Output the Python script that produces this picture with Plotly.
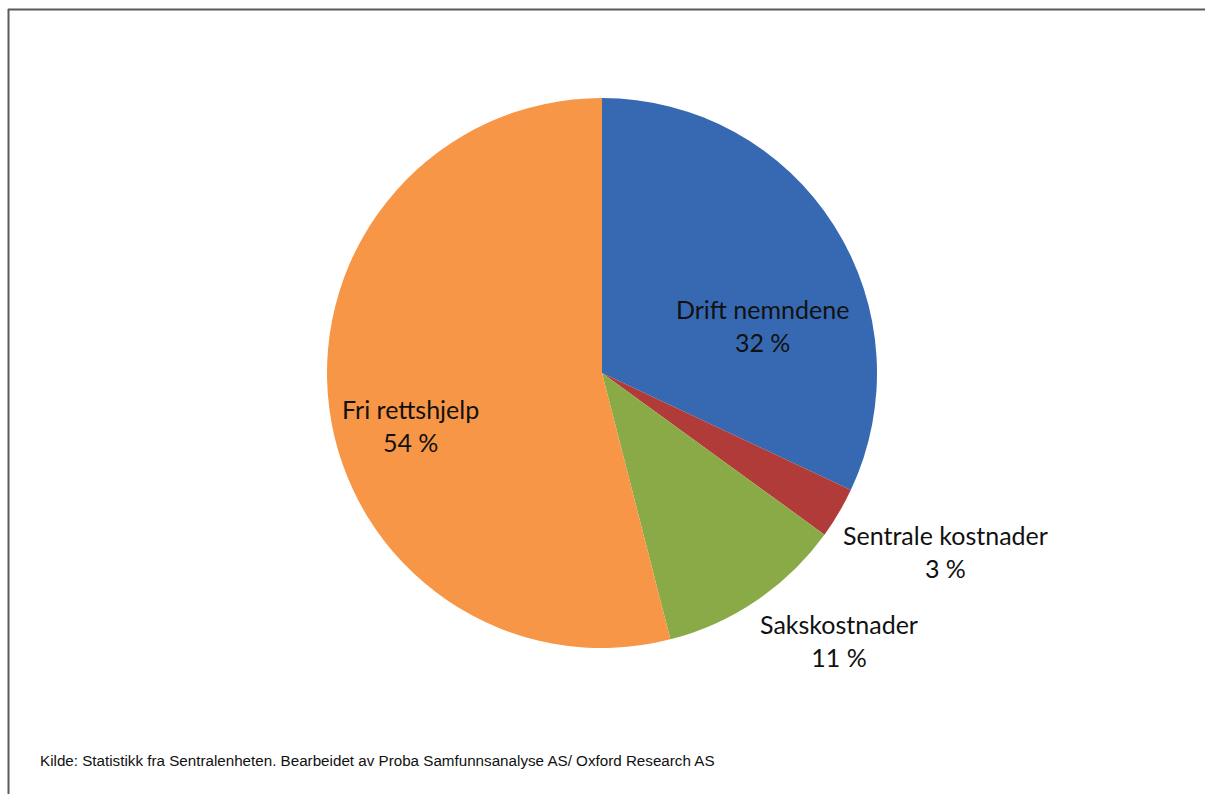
import plotly.graph_objects as go

# Cost shares, clockwise from 12 o'clock
categories = ["Drift nemndene", "Sentrale kostnader", "Sakskostnader", "Fri rettshjelp"]
shares = [32, 3, 11, 54]
colors = ["#3669B2", "#B03B38", "#8AAA48", "#F79646"]

source_note = "Kilde: Statistikk fra Sentralenheten. Bearbeidet av Proba Samfunnsanalyse AS/ Oxford Research AS"

W, H = 1205, 794
cx, cy, r = 602, 373, 275

fig = go.Figure(
    go.Pie(
        labels=categories,
        values=shares,
        sort=False,
        direction="clockwise",
        rotation=0,
        marker=dict(colors=colors, line=dict(color="white", width=0)),
        textinfo="none",
        hoverinfo="label+percent",
        domain=dict(
            x=[(cx - r) / W, (cx + r) / W],
            y=[1 - (cy + r) / H, 1 - (cy - r) / H],
        ),
        showlegend=False,
    )
)

# label anchor points (pixel coordinates of the text centre)
label_pos = {
    "Drift nemndene": (762, 325),
    "Sentrale kostnader": (945, 551),
    "Sakskostnader": (839, 640),
    "Fri rettshjelp": (410, 425),
}

for name, val in zip(categories, shares):
    x, y = label_pos[name]
    fig.add_annotation(
        x=x / W, y=1 - y / H, xref="paper", yref="paper",
        text=f"{name}<br>{val} %",
        showarrow=False,
        font=dict(family="Lato, Carlito, sans-serif", size=25, color="#111111"),
        align="center", xanchor="center", yanchor="middle",
    )

fig.add_annotation(
    x=38 / W, y=1 - 760 / H, xref="paper", yref="paper",
    text=source_note, showarrow=False,
    font=dict(family="Liberation Sans, Arial, sans-serif", size=15.2, color="#111111"),
    xanchor="left", yanchor="middle",
)

# frame lines along the top and left edges
frame = dict(color="#5A5A5A", width=2)
fig.add_shape(type="line", xref="paper", yref="paper",
              x0=8 / W, x1=1.0, y0=1 - 9.5 / H, y1=1 - 9.5 / H, line=frame)
fig.add_shape(type="line", xref="paper", yref="paper",
              x0=8.5 / W, x1=8.5 / W, y0=0, y1=1 - 9 / H, line=frame)

fig.update_layout(
    width=W, height=H,
    margin=dict(l=0, r=0, t=0, b=0),
    paper_bgcolor="white", plot_bgcolor="white",
)

fig.write_html("out.html")
